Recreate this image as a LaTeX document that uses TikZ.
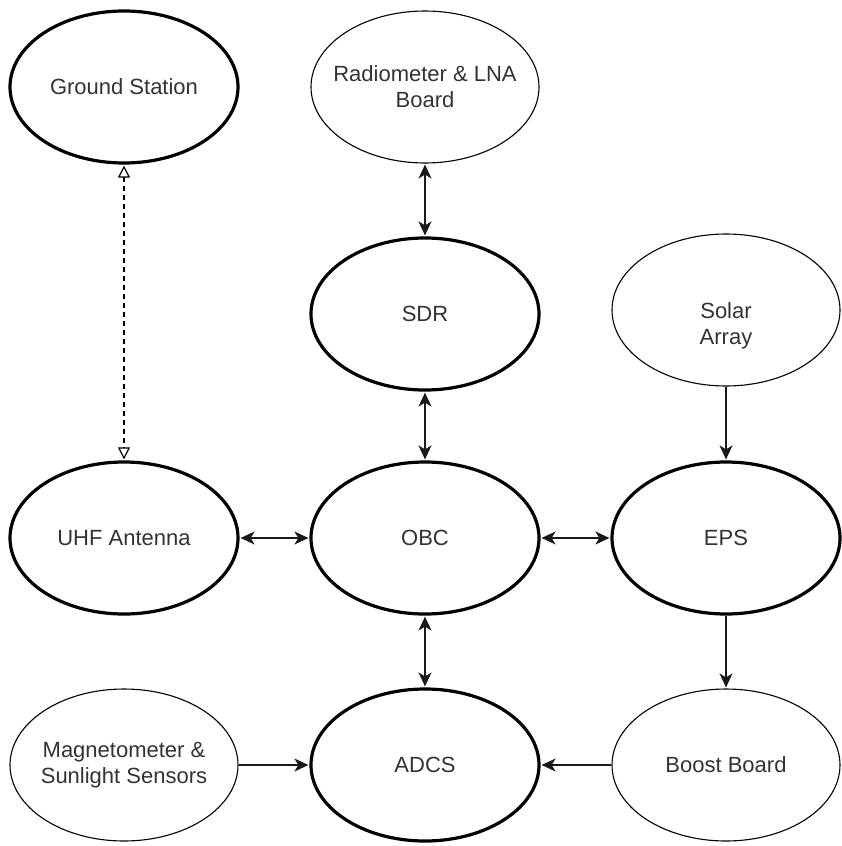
\documentclass[tikz,border=0pt]{standalone}
\usepackage{fontspec}
\setmainfont{Liberation Sans}
\usetikzlibrary{shapes.geometric,arrows.meta}
\begin{document}
\begin{tikzpicture}[x=1pt,y=-1pt,
  box/.style={ellipse, draw=black, minimum width=228pt, minimum height=152pt,
    inner xsep=-45pt, inner ysep=-20pt,
    align=center, text=black!80, font=\fontsize{22}{26}\selectfont},
  thickbox/.style={box, line width=3.2pt},
  thinbox/.style={box, line width=1.1pt},
  txt/.style={align=center, text=black!80, font=\fontsize{22}{26}\selectfont, inner sep=0pt},
  conn/.style={line width=1.5pt, draw=black!90},
  tip/.style={},
  dbl/.style={conn, {Stealth[length=14pt,width=13pt,inset=4pt]}-{Stealth[length=14pt,width=13pt,inset=4pt]}, shorten <=1pt, shorten >=1pt},
  one/.style={conn, -{Stealth[length=14pt,width=13pt,inset=4pt]}, shorten >=1pt},
  dashlink/.style={line width=1.2pt, dash pattern=on 5pt off 4pt,
    {Triangle[open,length=12pt,width=12pt]}-{Triangle[open,length=12pt,width=12pt]}, shorten <=1pt, shorten >=1pt}
]
\useasboundingbox (0,0) rectangle (841,846);
\fill[white] (0,0) rectangle (841,846);

\node[thickbox] (gs) at (124,87) {Ground Station};
\node[thinbox] (rad) at (425,87) {Radiometer \& LNA\\Board};
\node[thickbox] (sdr) at (425,314) {SDR};
\node[thinbox] (solar) at (726,310) {};
\node[txt] (solartxt) at (726,326) {Solar\\Array};
\node[thickbox] (uhf) at (124,538) {UHF Antenna};
\node[thickbox] (obc) at (425,538) {OBC};
\node[thickbox] (eps) at (726,538) {EPS};
\node[thinbox] (mag) at (124,765) {Magnetometer \&\\Sunlight Sensors};
\node[thickbox] (adcs) at (425,765) {ADCS};
\node[thinbox] (boost) at (726,765) {Boost Board};

\draw[dashlink] (gs) -- (uhf);
\draw[dbl] (rad) -- (sdr);
\draw[dbl] (sdr) -- (obc);
\draw[dbl] (obc) -- (adcs);
\draw[dbl] (uhf) -- (obc);
\draw[dbl] (obc) -- (eps);
\draw[one] (solar) -- (eps);
\draw[one] (eps) -- (boost);
\draw[one] (mag) -- (adcs);
\draw[one] (boost) -- (adcs);
\end{tikzpicture}
\end{document}
